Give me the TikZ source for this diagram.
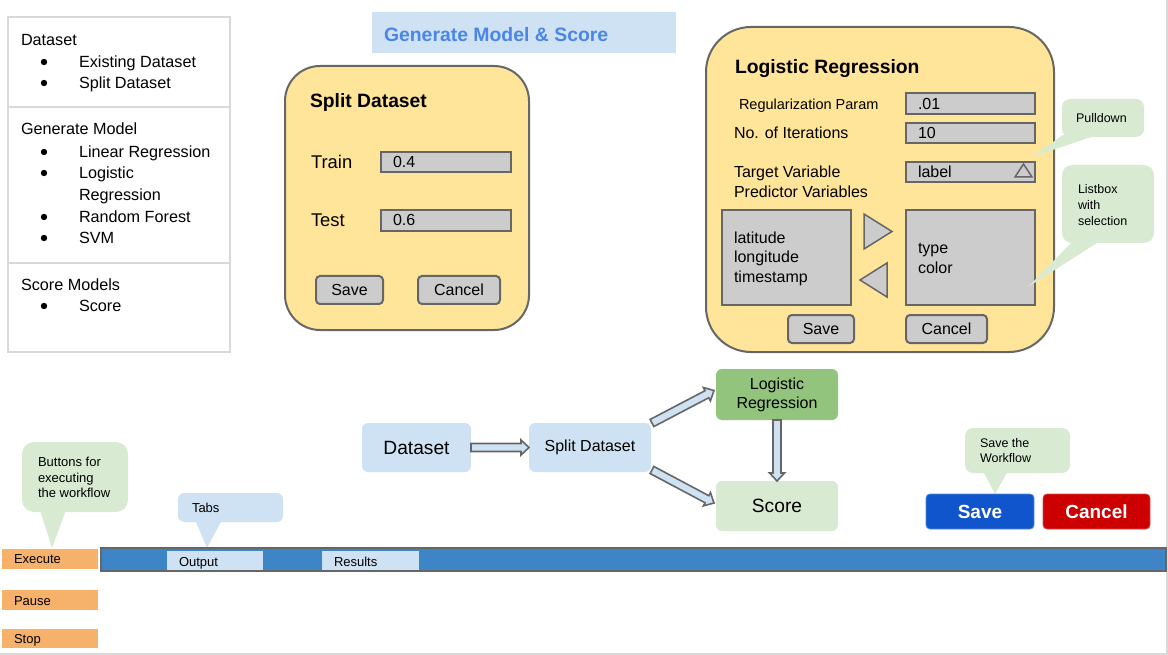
\documentclass[tikz,border=0pt]{standalone}
\usepackage{fontspec}
\setmainfont{Liberation Sans}
\usetikzlibrary{calc}
\definecolor{panelyellow}{HTML}{FFE599}
\definecolor{strokegray}{HTML}{666666}
\definecolor{fieldgray}{HTML}{CCCCCC}
\definecolor{lightblue}{HTML}{CFE2F3}
\definecolor{titleblue}{HTML}{4A86E8}
\definecolor{darkgreen}{HTML}{93C47D}
\definecolor{lightgreen}{HTML}{D9EAD3}
\definecolor{orangebtn}{HTML}{F6B26B}
\definecolor{barblue}{HTML}{3D85C6}
\definecolor{saveblue}{HTML}{1155CC}
\definecolor{cancelred}{HTML}{CC0000}
\definecolor{framegray}{HTML}{D9D9D9}
\newcommand\fsz[1]{\fontsize{#1}{#1}\selectfont}
\begin{document}
\begin{tikzpicture}[x=1pt,y=-1pt,
  every node/.style={inner sep=0pt,outer sep=0pt},
  txt/.style={anchor=base west,font=\fsz{#1}},
  btxt/.style={anchor=base west,font=\fsz{#1}\bfseries},
  panel/.style={draw=strokegray,line width=2pt,fill=panelyellow,anchor=north west},
  field/.style={draw=strokegray,line width=2pt,fill=fieldgray,anchor=north west},
  smallbtn/.style={draw=strokegray,line width=2pt,fill=fieldgray,rounded corners=4pt,anchor=north west,font=\fsz{16}},
  flownode/.style={rounded corners=6pt,anchor=north west,align=center},
  callout/.style={anchor=north west},
  runbtn/.style={fill=orangebtn,anchor=north west,minimum width=96,minimum height=20},
  tab/.style={fill=lightblue,anchor=north west,minimum width=96,minimum height=19.5},
  bigbtn/.style={rounded corners=4pt,anchor=north west,minimum width=108,minimum height=35,text=white,font=\fsz{19}\bfseries},
  fat/.style={draw=strokegray,line width=1.6pt,fill=lightblue,line join=miter,
    to path={let \p1=(\tikztostart),\p2=(\tikztotarget),\p3=($(\p2)!8pt!(\p1)$) in
      ($(\p1)!4pt!90:(\p2)$) -- ($(\p3)!4pt!90:(\p2)$) -- ($(\p3)!7.5pt!90:(\p2)$) -- (\p2)
      -- ($(\p3)!7.5pt!-90:(\p2)$) -- ($(\p3)!4pt!-90:(\p2)$) -- ($(\p1)!4pt!-90:(\p2)$) -- cycle}}
]
\useasboundingbox (0,0) rectangle (1168,655);
% frame
\draw[framegray,line width=1.5pt] (1167.2,0) -- (1167.2,654.2) -- (0,654.2);

% ---------------- left menu
\node[draw=framegray,line width=1.5pt,anchor=north west,minimum width=222,minimum height=335] (menu) at (8,17) {};
\draw[framegray,line width=1.5pt] (8,107) -- (230,107);
\draw[framegray,line width=1.5pt] (8,263) -- (230,263);
\node[txt=16.2] (m1) at (21,45.8) {Dataset};
\node[txt=16.2] (m2) at (79,67.8) {Existing Dataset};
\node[txt=16.2] (m3) at (79,88.8) {Split Dataset};
\node[txt=16.2] (m4) at (21,134.8) {Generate Model};
\node[txt=16.2] (m5) at (79,157.8) {Linear Regression};
\node[txt=16.2] (m6) at (79,178.8) {Logistic};
\node[txt=16.2] (m7) at (79,200.8) {Regression};
\node[txt=16.2] (m8) at (79,222.8) {Random Forest};
\node[txt=16.2] (m9) at (79,243.8) {SVM};
\node[txt=16.2] (m10) at (21,290.8) {Score Models};
\node[txt=16.2] (m11) at (79,311.8) {Score};
\foreach \yy in {62,83,152,173,217,238,306} \fill (44,\yy) circle (3.2pt);

% ---------------- title
\node[fill=lightblue,anchor=north west,minimum width=304,minimum height=41] (titlebox) at (372,12) {};
\node[btxt=19.4,text=titleblue] (title) at (384,42) {Generate Model \& Score};

% ---------------- split dataset panel
\node[panel,rounded corners=35pt,minimum width=244,minimum height=264] (sdpanel) at (285,66) {};
\node[btxt=19.3] (sdtitle) at (310,107.8) {Split Dataset};
\node[txt=18.4] (train) at (311,168.6) {Train};
\node[field,minimum width=130,minimum height=20] (trainf) at (381,152) {};
\node[txt=16] (trainv) at (393,167.8) {0.4};
\node[txt=18.4] (test) at (311,226.6) {Test};
\node[field,minimum width=130,minimum height=21] (testf) at (381,210) {};
\node[txt=16] (testv) at (393,225.8) {0.6};
\node[smallbtn,minimum width=67,minimum height=28] (sdsave) at (316,276) {Save};
\node[smallbtn,minimum width=82,minimum height=28] (sdcancel) at (418,276) {Cancel};

% ---------------- logistic regression panel
\node[panel,rounded corners=45pt,minimum width=348,minimum height=325] (lrpanel) at (706,27) {};
\node[btxt=19.3] (lrtitle) at (735,73.8) {Logistic Regression};
\node[txt=14.5] (regp) at (739,109.2) {Regularization Param};
\node[field,minimum width=129,minimum height=21] (regf) at (906,93) {};
\node[txt=16] (regv) at (918,109.8) {.01};
\node[txt=16] (iter) at (734,138.8) {No. of Iterations};
\node[field,minimum width=129,minimum height=20] (iterf) at (906,123) {};
\node[txt=16] (iterv) at (918,138.8) {10};
\node[txt=16] (tvar) at (734,177.8) {Target Variable};
\node[txt=16] (pvar) at (734,197.8) {Predictor Variables};
\node[field,minimum width=129,minimum height=20] (labf) at (906,162) {};
\node[txt=16] (labv) at (918,177.8) {label};
\draw[strokegray,line width=1.5pt] (1015,177) -- (1032,177) -- (1023.5,164) -- cycle;
\node[field,minimum width=129,minimum height=95] (leftlist) at (722,210) {};
\node[txt=16] (l1) at (734,243.8) {latitude};
\node[txt=16] (l2) at (734,262.8) {longitude};
\node[txt=16] (l3) at (734,282.8) {timestamp};
\node[field,minimum width=129,minimum height=95] (rightlist) at (906,210) {};
\node[txt=16] (r1) at (918,253.8) {type};
\node[txt=16] (r2) at (918,273.8) {color};
\draw[strokegray,line width=1.5pt,fill=fieldgray] (864,214) -- (892,231.5) -- (864,249) -- cycle;
\draw[strokegray,line width=1.5pt,fill=fieldgray] (887,263) -- (860,280) -- (887,297) -- cycle;
\node[smallbtn,minimum width=66,minimum height=28] (lrsave) at (788,315) {Save};
\node[smallbtn,minimum width=81,minimum height=28] (lrcancel) at (906,315) {Cancel};

% ---------------- callouts right
\fill[lightgreen] (1063,135) -- (1097,135) -- (1032,157) -- cycle;
\node[callout,fill=lightgreen,rounded corners=8pt,minimum width=82,minimum height=38] (pull) at (1062,99) {};
\node[txt=12.5] (pullt) at (1076,122.5) {Pulldown};
\fill[lightgreen] (1073,241) -- (1100,241) -- (1028,287) -- cycle;
\node[callout,fill=lightgreen,rounded corners=10pt,minimum width=92,minimum height=78] (lbox) at (1062,165) {};
\node[txt=12.5] (lb1) at (1078,193.7) {Listbox};
\node[txt=12.5] (lb2) at (1078,209.7) {with};
\node[txt=12.5] (lb3) at (1078,225.7) {selection};

% ---------------- flow
\node[flownode,fill=lightblue,minimum width=109,minimum height=49,font=\fsz{19.2}] (ds) at (362,423) {Dataset};
\node[flownode,fill=lightblue,minimum width=122,minimum height=49,font=\fsz{16}] (sd) at (529,423) {Split Dataset};
\node[flownode,fill=darkgreen,minimum width=122,minimum height=51,font=\fsz{16}] (lr) at (716,369) {Logistic\\[3pt]Regression};
\node[flownode,fill=lightgreen,minimum width=122,minimum height=50,font=\fsz{19.2}] (sc) at (716,481) {Score};
\draw[fat] (ds.east) to (sd.west);
\draw[fat] ($(sd.north east)+(1,0)$) to ($(lr.west)+(-2,-4)$);
\draw[fat] ($(sd.south east)+(1,-2)$) to ($(sc.west)+(-2,-3)$);
\draw[fat] (lr.south) to (sc.north);

% ---------------- bottom
\fill[lightgreen] (40,510) -- (66,510) -- (52,548) -- cycle;
\node[callout,fill=lightgreen,rounded corners=12pt,minimum width=106,minimum height=70] (bcall) at (22,442) {};
\node[txt=13] (bc1) at (38,466.4) {Buttons for};
\node[txt=13] (bc2) at (38,482.4) {executing};
\node[txt=13] (bc3) at (38,497) {the workflow};
\fill[lightblue] (195,520) -- (222,520) -- (207,548) -- cycle;
\node[callout,fill=lightblue,rounded corners=6pt,minimum width=105,minimum height=29] (tcall) at (178,493) {};
\node[txt=13] (tct) at (192,512) {Tabs};

\node[runbtn] (exec) at (2,549) {};
\node[txt=13] (exect) at (14,563.7) {Execute};
\node[runbtn] (pause) at (2,590) {};
\node[txt=13] (pauset) at (14,605.4) {Pause};
\node[runbtn,minimum height=19] (stop) at (2,629) {};
\node[txt=13] (stopt) at (14,643.7) {Stop};

\node[draw=strokegray,line width=2pt,fill=barblue,anchor=north west,minimum width=1065,minimum height=23] (bar) at (101,548) {};
\node[tab] (otab) at (167,550.5) {};
\node[txt=13] (otabt) at (179,566.4) {Output};
\node[tab,minimum width=97] (rtab) at (322,550.5) {};
\node[txt=13] (rtabt) at (334,566.4) {Results};

\fill[lightgreen] (983,471) -- (1008,471) -- (995,494) -- cycle;
\node[callout,fill=lightgreen,rounded corners=8pt,minimum width=105,minimum height=45] (scall) at (965,428) {};
\node[txt=12.5] (sc1) at (980,447.4) {Save the};
\node[txt=12.5] (sc2) at (980,462.4) {Workflow};
\node[bigbtn,fill=saveblue,draw=saveblue!70!white,line width=0.8pt] (wsave) at (926,494) {Save};
\node[bigbtn,fill=cancelred,draw=cancelred!70!white,line width=0.8pt,minimum width=107] (wcancel) at (1043,494) {Cancel};
\end{tikzpicture}
\end{document}
